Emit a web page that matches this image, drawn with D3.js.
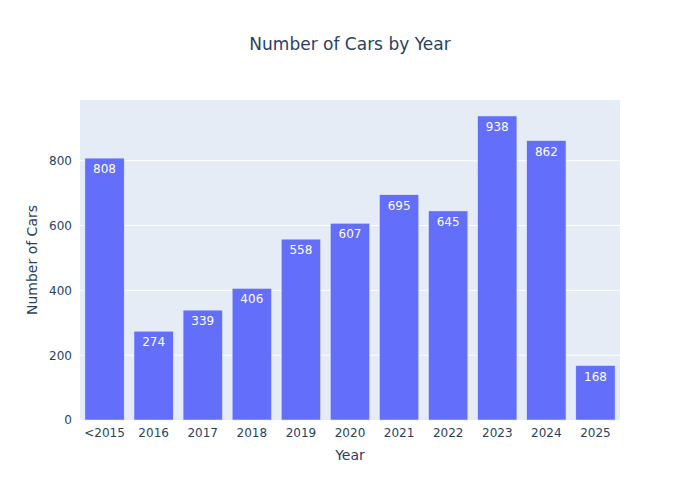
<!DOCTYPE html>
<html><head><meta charset="utf-8">
<script src="https://cdn.jsdelivr.net/npm/d3@7"></script>
<style>body{margin:0;background:#fff}svg{display:block}text{font-family:"DejaVu Sans",Verdana,sans-serif}</style>
</head><body>
<svg id="c" width="700" height="500"></svg>
<script>
const categories = ["<2015","2016","2017","2018","2019","2020","2021","2022","2023","2024","2025"];
const values = [808,274,339,406,558,607,695,645,938,862,168];
const yTicks = [0,200,400,600,800];
const title = "Number of Cars by Year";
const xTitle = "Year";
const yTitle = "Number of Cars";

const FONT="'DejaVu Sans',Verdana,sans-serif";
const W=700,H=500,m={l:80,r:80,t:100,b:80};
const pw=W-m.l-m.r, ph=H-m.t-m.b;
const svg=d3.select("#c");
const g=svg.append("g").attr("transform",`translate(${m.l},${m.t})`);
g.append("rect").attr("width",pw).attr("height",ph).attr("fill","#E5ECF6");
const x=d3.scaleBand().domain(categories).range([0,pw]).paddingInner(0.2).paddingOuter(0.1);
const y=d3.scaleLinear().domain([0,d3.max(values)*1.0526]).range([ph,0]);
g.selectAll(".grid").data(yTicks.filter(t=>t>0)).join("line")
 .attr("x1",0).attr("x2",pw).attr("y1",d=>y(d)).attr("y2",d=>y(d))
 .attr("stroke","#fff").attr("stroke-width",1);
g.selectAll(".bar").data(values).join("rect")
 .attr("x",(d,i)=>x(categories[i])).attr("width",x.bandwidth())
 .attr("y",d=>y(d)).attr("height",d=>ph-y(d))
 .attr("fill","#636efa").attr("stroke","#E5ECF6").attr("stroke-width",0.5);
g.selectAll(".lbl").data(values).join("text")
 .attr("x",(d,i)=>x(categories[i])+x.bandwidth()/2).attr("y",d=>y(d)+15)
 .attr("text-anchor","middle").attr("fill","#fff").attr("font-size",12).text(d=>d);
const yAx=d3.axisLeft(y).tickValues(yTicks).tickSize(0).tickPadding(8);
const ya=g.append("g").call(yAx);
ya.select(".domain").remove();
ya.selectAll("text").attr("fill","#2a3f5f").attr("font-size",12).attr("font-family",FONT);
const xAx=d3.axisBottom(x).tickSize(0).tickPadding(8);
const xa=g.append("g").attr("transform",`translate(0,${ph})`).call(xAx);
xa.select(".domain").remove();
xa.selectAll("text").attr("fill","#2a3f5f").attr("font-size",12).attr("font-family",FONT);
svg.append("text").attr("x",W/2).attr("y",50).attr("text-anchor","middle").attr("fill","#2a3f5f").attr("font-size",17).text(title);
svg.append("text").attr("x",m.l+pw/2).attr("y",460).attr("text-anchor","middle").attr("fill","#2a3f5f").attr("font-size",14).text(xTitle);
svg.append("text").attr("transform",`translate(37,${m.t+ph/2}) rotate(-90)`).attr("text-anchor","middle").attr("fill","#2a3f5f").attr("font-size",14).text(yTitle);
</script>
</body></html>
